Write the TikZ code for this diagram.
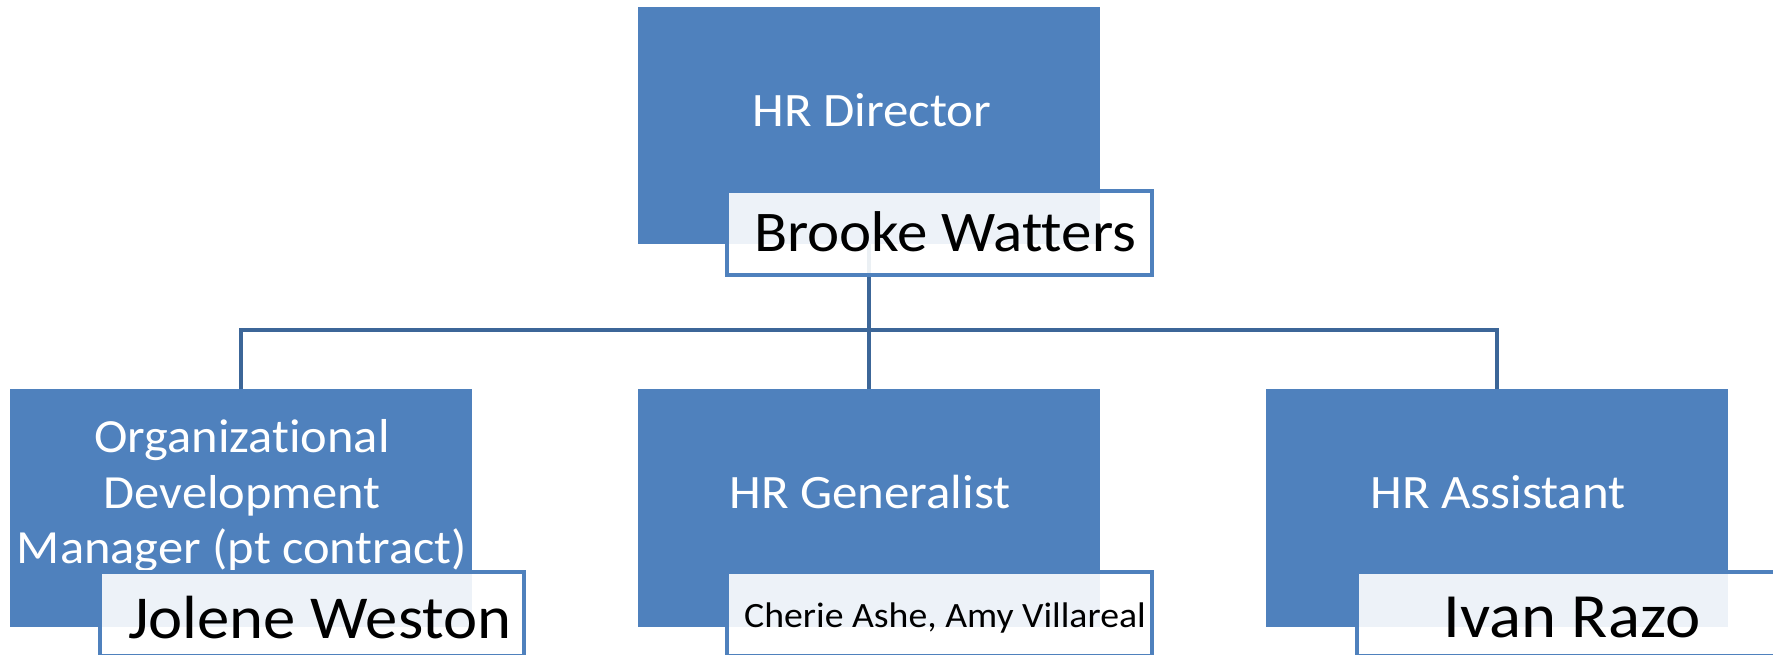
\documentclass[tikz,border=0pt]{standalone}
\usepackage{fontspec}
\setmainfont{Carlito}[FakeStretch=1.06, Ligatures=NoCommon]
\definecolor{boxblue}{HTML}{4F81BD}
\definecolor{linkblue}{HTML}{3C6698}
\tikzset{
  rolebox/.style={fill=boxblue, draw=none},
  namebox/.style={draw=boxblue, line width=4pt, fill=white, fill opacity=0.9, text opacity=1},
  link/.style={draw=linkblue, line width=3.5pt},
  roletext/.style={text=white, inner sep=0pt, align=center},
  nametext/.style={text=black, inner sep=0pt},
}
\begin{document}
\begin{tikzpicture}[x=1pt,y=-1pt]
\useasboundingbox (0,0) rectangle (1773,655);
\clip (0,0) rectangle (1773,655);
% role boxes
\path[rolebox] (638,7) rectangle (1100,244);
\coordinate (topS) at (869,244);
\path[rolebox] (10,389) rectangle (472,627);
\coordinate (leftN) at (241,389);
\path[rolebox] (638,389) rectangle (1100,627);
\coordinate (midN) at (869,389);
\path[rolebox] (1266,389) rectangle (1728,627);
\coordinate (rightN) at (1497,389);
% connectors
\coordinate (bar) at (869,330);
\draw[link] (topS) -- (bar);
\draw[link] (leftN) -- (leftN |- bar) -- (rightN |- bar) -- (rightN);
\draw[link] (bar) -- (midN);
% role texts
\node[roletext, font=\fontsize{48}{58}\selectfont, anchor=base] (dir) at (872,127) {HR Director};
\node[roletext, font=\fontsize{47.6}{55.5}\selectfont, anchor=center] (odm) at (242,496) {Organizational\\Development\\Manager (pt contract)};
\node[roletext, font=\fontsize{48}{58}\selectfont, anchor=base] (gen) at (870,508) {HR Generalist};
\node[roletext, font=\fontsize{48}{58}\selectfont, anchor=base] (asst) at (1498,508) {HR Assistant};
% name boxes
\path[namebox] (727,191) rectangle (1152,275);
\path[namebox] (100,572) rectangle (524,656);
\path[namebox] (727,572) rectangle (1152,656);
\path[namebox] (1357,572) rectangle (1782,656);
% name texts
\node[nametext, font=\fontsize{57.5}{66}\selectfont, anchor=base] (brooke) at (945,252) {Brooke Watters};
\node[nametext, font=\fontsize{61}{72}\selectfont, anchor=base] (jolene) at (320,638) {Jolene Weston};
\node[nametext, font=\fontsize{35.6}{44}\selectfont, anchor=base] (cherie) at (945,627) {Cherie Ashe, Amy Villareal};
\node[nametext, font=\fontsize{63}{72}\selectfont, anchor=base] (ivan) at (1572,637) {Ivan Razo};
\end{tikzpicture}
\end{document}
